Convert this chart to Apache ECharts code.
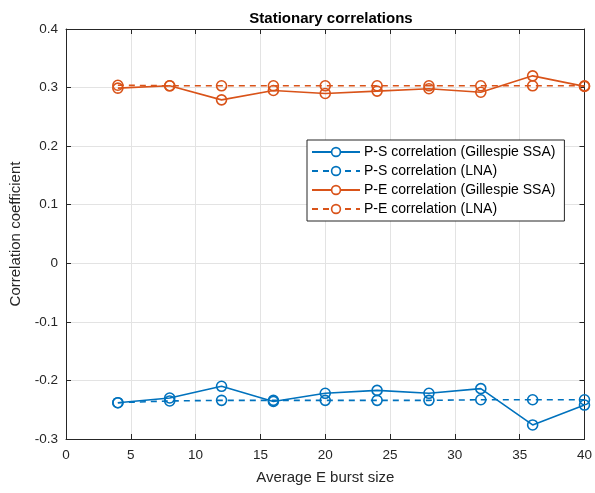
<!DOCTYPE html>
<html>
<head>
<meta charset="utf-8">
<script src="https://cdn.jsdelivr.net/npm/echarts@6/dist/echarts.min.js"></script>
<style>
  html, body { margin: 0; padding: 0; background: #fff; }
  #chart { width: 595px; height: 493px; }
</style>
</head>
<body>
<div id="chart"></div>
<script>
// burst sizes
const burstSizes = [4, 8, 12, 16, 20, 24, 28, 32, 36, 40];
// correlations
const psSSA = [-0.238, -0.230, -0.210, -0.236, -0.222, -0.217, -0.222, -0.214, -0.276, -0.242];
const psLNA = [-0.238, -0.235, -0.234, -0.234, -0.234, -0.234, -0.234, -0.233, -0.233, -0.233];
const peSSA = [0.299, 0.303, 0.279, 0.295, 0.290, 0.294, 0.298, 0.292, 0.320, 0.302];
const peLNA = [0.304, 0.303, 0.303, 0.303, 0.303, 0.303, 0.303, 0.303, 0.303, 0.303];

const seriesNames = [
  "P-S correlation (Gillespie SSA)",
  "P-S correlation (LNA)",
  "P-E correlation (Gillespie SSA)",
  "P-E correlation (LNA)"
];

const blue = "#0072BD";
const orange = "#D95319";
const axisColor = "#262626";
const font = "Liberation Sans";

const chartDom = document.getElementById("chart");
const myChart = echarts.init(chartDom);

function pairs(ys) {
  return burstSizes.map((x, i) => [x, ys[i]]);
}

function mkSeries(name, ys, color, dashed) {
  return {
    name: name,
    type: "line",
    data: pairs(ys),
    symbol: "circle",
    symbolSize: 10,
    itemStyle: { color: "rgba(0,0,0,0)", borderColor: color, borderWidth: 1.6 },
    lineStyle: { color: color, width: 1.6, type: dashed ? [6, 5] : "solid" },
    emphasis: { disabled: true },
    animation: false
  };
}

const hiddenAxis = {
  axisLine: { show: true, onZero: false, lineStyle: { color: axisColor, width: 1 } },
  axisTick: { show: true, inside: true, length: 5, lineStyle: { color: axisColor } },
  axisLabel: { show: false },
  splitLine: { show: false }
};

const option = {
  backgroundColor: "#fff",
  title: {
    text: "Stationary correlations",
    left: 326,
    top: 6,
    textAlign: "center",
    textStyle: { fontFamily: font, fontSize: 15, fontWeight: "bold", color: "#000" }
  },
  grid: { left: 66, right: 10, top: 29, bottom: 54, containLabel: false },
  legend: {
    data: seriesNames.map(n => ({
      name: n,
      itemStyle: { color: "#fff", borderColor: n.startsWith("P-S") ? blue : orange, borderWidth: 1.6 }
    })),
    orient: "vertical",
    left: 307,
    top: 140,
    itemWidth: 48,
    itemHeight: 11,
    itemGap: 5,
    padding: [5, 9, 5, 4],
    backgroundColor: "#fff",
    borderColor: axisColor,
    borderWidth: 1,
    borderRadius: 0,
    selectedMode: false,
    textStyle: { fontFamily: font, fontSize: 14, color: "#000", padding: [0, 0, 0, -1] }
  },
  xAxis: [
    {
      type: "value",
      min: 0,
      max: 40,
      interval: 5,
      name: "Average E burst size",
      nameLocation: "middle",
      nameGap: 31,
      nameTextStyle: { fontFamily: font, fontSize: 15, color: axisColor },
      axisLine: { show: true, onZero: false, lineStyle: { color: axisColor, width: 1 } },
      axisTick: { show: true, inside: true, length: 5, lineStyle: { color: axisColor } },
      axisLabel: { fontFamily: font, fontSize: 13.5, color: axisColor, margin: 9 },
      splitLine: { show: true, lineStyle: { color: "#e3e3e3", width: 1 } }
    },
    Object.assign({ type: "value", min: 0, max: 40, interval: 5, position: "top" }, hiddenAxis)
  ],
  yAxis: [
    {
      type: "value",
      min: -0.3,
      max: 0.4,
      interval: 0.1,
      name: "Correlation coefficient",
      nameLocation: "middle",
      nameGap: 40,
      nameTextStyle: { fontFamily: font, fontSize: 15, color: axisColor },
      axisLine: { show: true, onZero: false, lineStyle: { color: axisColor, width: 1 } },
      axisTick: { show: true, inside: true, length: 5, lineStyle: { color: axisColor } },
      axisLabel: {
        fontFamily: font, fontSize: 13.5, color: axisColor, margin: 8,
        formatter: v => {
          const r = Math.round(v * 10) / 10;
          return r === 0 ? "0" : r.toFixed(1);
        }
      },
      splitLine: { show: true, lineStyle: { color: "#e3e3e3", width: 1 } }
    },
    Object.assign({ type: "value", min: -0.3, max: 0.4, interval: 0.1, position: "right" }, hiddenAxis)
  ],
  series: [
    mkSeries(seriesNames[0], psSSA, blue, false),
    mkSeries(seriesNames[1], psLNA, blue, true),
    mkSeries(seriesNames[2], peSSA, orange, false),
    mkSeries(seriesNames[3], peLNA, orange, true)
  ]
};

option && myChart.setOption(option);
</script>
</body>
</html>
